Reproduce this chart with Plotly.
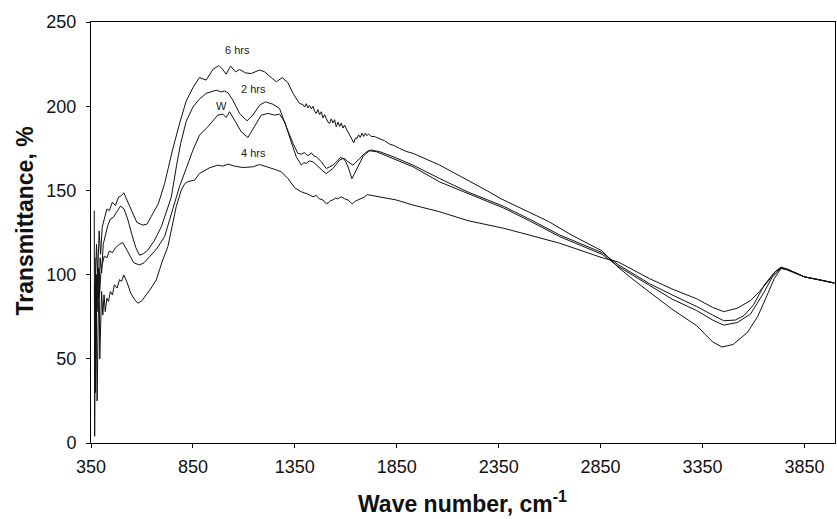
import plotly.graph_objects as go

# ---- data ----
wn_6h = [366, 368, 372, 377, 383, 390, 397, 405, 415, 428, 440, 455, 470, 485, 500, 511, 520, 535, 555, 575,
         604, 625, 645, 680, 711, 750, 785, 817, 850, 882, 915, 948, 977, 995, 1013, 1035, 1059, 1079, 1108,
         1136, 1177, 1202, 1234, 1259, 1288, 1316, 1341, 1373, 1390, 1398, 1406, 1414, 1422, 1431, 1439, 1447,
         1455, 1463, 1472, 1480, 1488, 1496, 1504, 1513, 1521, 1529, 1537, 1545, 1553, 1562, 1570, 1578, 1586,
         1594, 1603, 1611, 1619, 1627, 1639, 1647, 1655, 1663, 1671, 1680, 1688, 1696, 1704, 1712, 1725, 1740,
         1766, 1790, 1815, 1840, 1864, 1900, 1930, 2000, 2061, 2130, 2200, 2296, 2362, 2480, 2594, 2700, 2790,
         2858, 2935, 3000, 3090, 3200, 3322, 3400, 3446, 3500, 3570, 3620, 3652, 3702, 3735, 3760, 3790, 3820,
         3851, 3880, 3920, 3960, 3997]
t_6h = [138, 4, 95, 118, 100, 126, 112, 128, 133, 139, 138, 143, 141, 146, 147, 148.6, 146, 142, 136, 131,
        129.4, 130, 134.4, 142, 154, 174, 190, 203, 211, 217, 215.5, 221.8, 224.2, 222, 219, 223.8, 220.4, 221.8,
        219.8, 219.4, 221.5, 220.4, 217, 214.5, 217, 214, 207.6, 201.6, 201, 199.5, 201.5, 199, 200.5, 198.5, 200,
        197, 195.7, 198, 195, 196.7, 193, 195, 192.7, 190.5, 189.8, 192.5, 190, 192, 187.8, 190.5, 188, 190, 187,
        188.8, 186.5, 184.8, 183, 180.9, 178.3, 181, 180.9, 183, 181.5, 184, 182, 184, 182.5, 183.5, 182, 182,
        180.5, 179.5, 177.5, 176.5, 174.9, 173, 172, 168, 165, 160.5, 156, 149.6, 145, 138, 131.6, 124, 118.5,
        114, 104.5, 98, 89.6, 79.5, 69.6, 60, 57, 58.5, 65.6, 75, 83.6, 97.6, 103.6, 103, 101.5, 100,
        98.6, 98, 97, 96, 95]

wn_2h = [370, 375, 380, 387, 395, 402, 410, 420, 432, 445, 460, 475, 495, 512, 530, 550, 570, 588, 608, 629,
         660, 695, 744, 770, 790, 817, 850, 880, 915, 964, 989, 1005, 1022, 1046, 1079, 1115, 1144, 1177, 1206,
         1242, 1275, 1308, 1341, 1365, 1382, 1398, 1414, 1431, 1443, 1455, 1468, 1480, 1492, 1504, 1520, 1537,
         1550, 1562, 1574, 1586, 1598, 1611, 1622, 1635, 1648, 1660, 1676, 1693, 1710, 1725, 1745, 1766, 1832,
         1930, 2061, 2200, 2375, 2500, 2650, 2858, 2935, 3090, 3200, 3322, 3400, 3454, 3510, 3553, 3600, 3652,
         3700, 3735, 3770, 3851, 3920, 3997]
t_2h = [110, 80, 100, 86, 110, 101, 118, 124, 129, 133, 134, 137, 140.7, 139, 133, 124, 116, 111.5, 112.5, 114.6,
        120, 128.4, 146, 165, 178, 191, 199.5, 204, 207.6, 209.5, 208.5, 209, 208, 203.6, 195.7, 191.3, 194.7,
        200.6, 202.6, 201.2, 198.6, 187.8, 177.9, 172, 171.5, 172.5, 170.5, 172.3, 170.5, 170, 168.5, 167, 165,
        163, 164, 165, 166.5, 168, 169.5, 169, 168.5, 167, 166, 165, 166.5, 168, 170.5, 172, 173.5, 174, 173.5,
        173, 170, 165, 157, 149, 140.5, 133, 123.5, 113, 106, 94.6, 88, 81, 76, 72.6, 73, 75.6, 82, 93.6,
        101, 104.5, 103, 98.6, 97, 95]

wn_w = [369, 373, 376, 380, 386, 392, 398, 405, 415, 428, 440, 455, 470, 490, 506, 520, 540, 560, 588, 610,
        637, 670, 711, 760, 784, 817, 850, 882, 923, 972, 997, 1013, 1030, 1054, 1087, 1120, 1152, 1185, 1218,
        1251, 1275, 1300, 1332, 1357, 1382, 1395, 1406, 1420, 1439, 1455, 1472, 1488, 1504, 1520, 1537, 1553,
        1570, 1589, 1600, 1611, 1621, 1630, 1641, 1652, 1668, 1684, 1700, 1717, 1750, 1790, 1832, 1930, 2061,
        2200, 2375, 2500, 2650, 2858, 2935, 3090, 3200, 3322, 3400, 3454, 3520, 3586, 3620, 3652, 3690, 3735,
        3770, 3851, 3920, 3997]
t_w = [95, 50, 100, 78, 104, 88, 100, 106, 111, 110, 114, 113, 116, 118, 119, 116, 111, 107, 105.7, 107,
       110.6, 115, 122.5, 142.3, 152.2, 163, 173.9, 182.8, 187.8, 194.7, 195.3, 193.3, 196.7, 191.7, 184.8,
       181.4, 187.8, 194.7, 195.7, 194.7, 195.3, 190.7, 178.9, 170, 165, 166.5, 166, 167.5, 167, 165, 163,
       161.5, 160, 161.5, 163, 165.5, 168, 169, 167, 164, 160, 157, 159.5, 162, 166.5, 170, 172, 173.5, 173,
       171, 169, 164, 155, 148, 139.5, 132, 122.5, 112, 105, 93.6, 85.5, 78.6, 73, 70, 71.5, 76.6, 83, 89.6,
       98, 104, 103, 98.6, 97, 95]

wn_4h = [368, 372, 376, 380, 385, 390, 393, 397, 402, 408, 414, 420, 428, 436, 445, 455, 465, 478, 490, 500,
         511, 525, 545, 565, 580, 600, 621, 645, 670, 700, 727, 750, 768, 793, 810, 825, 858, 882, 907, 931,
         972, 997, 1022, 1054, 1095, 1144, 1177, 1218, 1251, 1283, 1316, 1349, 1381, 1414, 1439, 1455, 1470,
         1488, 1500, 1513, 1525, 1537, 1550, 1560, 1578, 1595, 1611, 1622, 1632, 1645, 1660, 1676, 1693, 1705,
         1717, 1740, 1766, 1848, 1930, 2061, 2200, 2375, 2500, 2650, 2858, 2935, 3090, 3200, 3322, 3400, 3454,
         3520, 3586, 3630, 3669, 3710, 3735, 3770, 3851, 3920, 3997]
t_4h = [90, 30, 85, 25, 70, 100, 50, 80, 90, 76, 88, 78, 86, 84, 90, 88, 94, 92, 97, 96,
        99.8, 96, 89, 85, 83, 84.5, 87.9, 92, 96.8, 108, 116.6, 130, 140.3, 150.2, 154, 155.2, 156.1, 160, 162,
        163.4, 165, 164.4, 165.6, 164.4, 163.6, 164, 165.4, 164, 162.5, 161.1, 157.1, 151.6, 149.2, 147.8,
        146.2, 147, 145, 144.3, 142.5, 142.3, 144, 144.3, 145.5, 145, 146.2, 145, 144.3, 143, 141.9, 143.5,
        144.3, 145.5, 146.2, 147.5, 147.2, 147, 146.2, 144.3, 141.3, 137.3, 132, 127.5, 123.5, 118.6, 110, 107.6,
        97.6, 91.5, 85.6, 80.5, 78, 80, 84.6, 90, 95.6, 102, 104, 103, 98.6, 97, 95]

series_names = ["6 hrs", "2 hrs", "W", "4 hrs"]
label_x = [1071, 1147, 991, 1148]
label_y = [233.3, 210.3, 200.3, 172.5]

x_ticks = [350, 850, 1350, 1850, 2350, 2850, 3350, 3850]
y_ticks = [0, 50, 100, 150, 200, 250]

# ---- figure ----
fig = go.Figure()
for wn, tv, name in [(wn_6h, t_6h, "6 hrs"), (wn_2h, t_2h, "2 hrs"), (wn_w, t_w, "W"), (wn_4h, t_4h, "4 hrs")]:
    fig.add_trace(go.Scatter(x=wn, y=tv, mode="lines", name=name,
                             line=dict(color="#111111", width=1), showlegend=False))

for name, lx, ly in zip(series_names, label_x, label_y):
    fig.add_annotation(x=lx, y=ly, text=name, showarrow=False,
                       font=dict(family="Liberation Sans, Arial, sans-serif", size=11, color="#222222"),
                       xanchor="center", yanchor="middle")

FONT = "Liberation Sans, Arial, sans-serif"
fig.add_annotation(xref="paper", yref="paper", x=-0.0887, y=0.526, text="<b>Transmittance, %</b>",
                   textangle=-90, showarrow=False, xanchor="center", yanchor="middle",
                   font=dict(family=FONT, size=23, color="#111111"))
fig.add_annotation(xref="paper", yref="paper", x=0.4987, y=-0.14, text="<b>Wave number, cm<sup>-1</sup></b>",
                   showarrow=False, xanchor="center", yanchor="middle",
                   font=dict(family=FONT, size=23, color="#111111"))

fig.update_xaxes(range=[350, 4000], tickvals=x_ticks, ticktext=[str(v) for v in x_ticks],
                 showline=True, linecolor="black", linewidth=1, mirror=True,
                 ticks="outside", ticklen=4, tickcolor="black", showgrid=False, zeroline=False,
                 tickfont=dict(family=FONT, size=18, color="#111111"), ticklabelstandoff=3)
fig.update_yaxes(range=[0, 250], tickvals=y_ticks,
                 showline=True, linecolor="black", linewidth=1, mirror=True,
                 ticks="outside", ticklen=4, tickcolor="black", showgrid=False, zeroline=False,
                 tickfont=dict(family=FONT, size=18, color="#111111"), ticklabelstandoff=6)

fig.update_layout(width=837, height=519, margin=dict(l=91, r=2, t=22, b=76),
                  plot_bgcolor="white", paper_bgcolor="white")

fig.write_html("out.html")
